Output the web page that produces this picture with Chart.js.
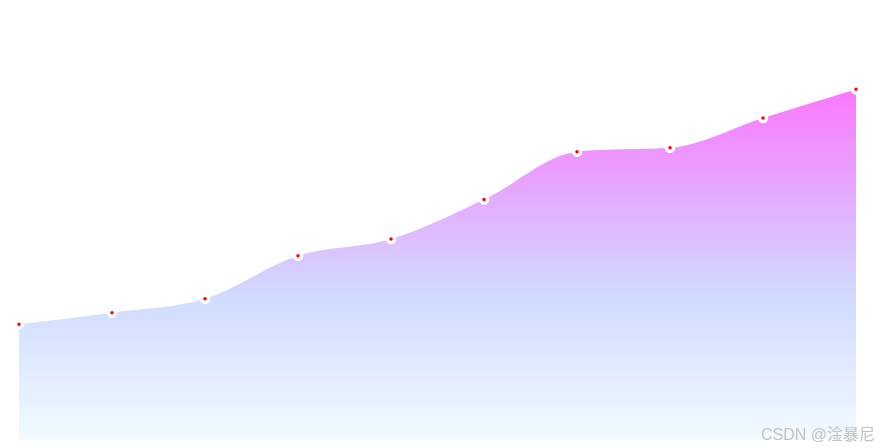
<!DOCTYPE html>
<html>
<head>
<meta charset="utf-8">
<script src="https://cdn.jsdelivr.net/npm/chart.js@4/dist/chart.umd.min.js"></script>
<style>
  html, body { margin: 0; padding: 0; background: #fff; }
  #wrap { position: relative; width: 879px; height: 448px; }
  #mark {
    position: absolute; right: 4px; bottom: 4px;
    font-family: "Liberation Sans", Arial, "Noto Sans CJK SC", sans-serif;
    font-size: 16px; color: #c2c2c2; line-height: 18px;
  }
</style>
</head>
<body>
<div id="wrap">
  <canvas id="chart" width="879" height="448"></canvas>
  <div id="mark">CSDN @淦暴尼</div>
</div>
<script>
var labels = ['1', '2', '3', '4', '5', '6', '7', '8', '9', '10'];
var values = [27.0, 29.7, 32.9, 42.9, 46.8, 56.0, 67.1, 68.0, 74.9, 81.6];

function makeFill(context) {
    var chart = context.chart;
    var area = chart.chartArea;
    if (!area) return 'rgba(210,220,255,1)';
    var top = chart.scales.y.getPixelForValue(Math.max.apply(null, values));
    var g = chart.ctx.createLinearGradient(0, top, 0, area.bottom);
    g.addColorStop(0, '#fa78ff');
    g.addColorStop(0.6, '#d0dcff');
    g.addColorStop(1, '#f2fbff');
    return g;
}

var ctx = document.getElementById('chart').getContext('2d');
var chart = new Chart(ctx, {
    type: 'line',
    data: {
        labels: labels,
        datasets: [{
            data: values,
            fill: 'origin',
            cubicInterpolationMode: 'monotone',
            borderWidth: 0,
            borderColor: 'rgba(0,0,0,0)',
            backgroundColor: makeFill,
            pointRadius: 3.5,
            pointBorderWidth: 3.5,
            pointBackgroundColor: '#ff0000',
            pointBorderColor: '#ffffff',
            clip: false
        }]
    },
    options: {
        responsive: false,
        animation: false,
        layout: { padding: { left: 19, right: 23, top: 10, bottom: 4 } },
        plugins: { legend: { display: false }, tooltip: { enabled: false } },
        scales: {
            x: { display: false },
            y: { display: false, min: 0, max: 100 }
        }
    }
});
</script>
</body>
</html>
